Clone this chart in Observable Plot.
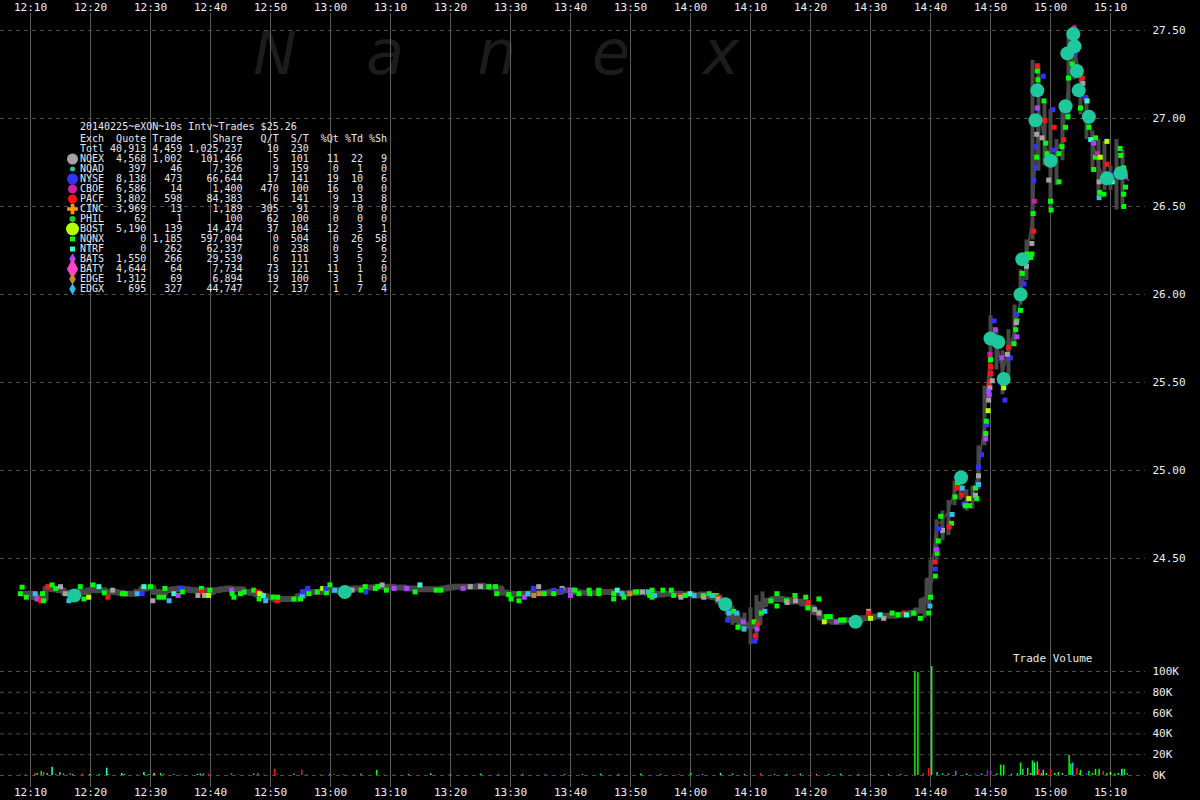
<!DOCTYPE html>
<html><head><meta charset="utf-8">
<script src="https://cdn.jsdelivr.net/npm/d3@7"></script>
<script src="https://cdn.jsdelivr.net/npm/@observablehq/plot@0.6"></script>
<style>
html,body{margin:0;padding:0;background:#000;}
#wrap{position:relative;width:1200px;height:800px;background:#000;overflow:hidden;}
#wrap > svg{position:absolute;left:0;top:0;}
.mono{position:absolute;font-family:"DejaVu Sans Mono",monospace;white-space:pre;margin:0;color:#e8e8e8;}
</style></head>
<body><div id="wrap"></div>
<script>
// ---------------- DATA ----------------
const timeTickLabels = ["12:10","12:20","12:30","12:40","12:50","13:00","13:10","13:20","13:30","13:40","13:50","14:00","14:10","14:20","14:30","14:40","14:50","15:00","15:10"];
const priceTicks = [24.5, 25.0, 25.5, 26.0, 26.5, 27.0, 27.5];
const volumeTicks = [0, 20, 40, 60, 80, 100];

// NBBO mid price, one value per minute starting 12:09
const midStartMinute = 9;
const midPrice = [
 24.30,24.30,24.28,24.27,24.33,24.325,24.32,24.305,24.295,24.305,
 24.31,24.32,24.32,24.32,24.31,24.31,24.305,24.30,24.30,24.31,
 24.33,24.335,24.31,24.305,24.32,24.325,24.33,24.325,24.32,24.32,
 24.32,24.31,24.32,24.325,24.33,24.325,24.325,24.31,24.305,24.295,
 24.285,24.28,24.27,24.27,24.27,24.27,24.285,24.31,24.31,24.31,
 24.32,24.32,24.32,24.31,24.325,24.33,24.33,24.335,24.335,24.34,
 24.34,24.34,24.335,24.335,24.33,24.33,24.325,24.325,24.325,24.325,
 24.33,24.335,24.34,24.34,24.34,24.34,24.345,24.34,24.335,24.33,
 24.305,24.30,24.295,24.30,24.30,24.305,24.305,24.305,24.31,24.31,
 24.32,24.32,24.31,24.305,24.305,24.305,24.31,24.31,24.31,24.305,
 24.30,24.305,24.305,24.31,24.305,24.30,24.295,24.30,24.30,24.30,
 24.295,24.295,24.29,24.295,24.285,24.28,24.26,24.22,24.17,24.15,
 24.125,24.115,24.135,24.24,24.26,24.27,24.27,24.265,24.255,24.255,
 24.245,24.22,24.195,24.165,24.15,24.14,24.14,24.15,24.15,24.15,
 24.16,24.165,24.17,24.175,24.175,24.175,24.18,24.18,24.19,24.205,
 24.26,24.375,24.69,24.715,24.77,24.885,24.91,24.86,24.84,25.00,
 25.28,25.71,25.74,25.555,25.68,25.795,25.965,26.205,26.45,27.045,
 26.875,26.735,26.82,26.875,27.215,27.415,27.215,27.045,26.875,26.735,
 26.65,26.65,26.67,26.675,26.65
];

// quote range within a minute: [minute after 12:00, low, high]
const quoteRanges = [
 [125,24.23,24.29],[126,24.18,24.26],[127,24.12,24.23],[128,24.09,24.19],[129,24.08,24.19],[130,24.01,24.22],[131,24.03,24.29],[132,24.20,24.31],
 [159,24.16,24.28],[160,24.26,24.49],[161,24.49,24.72],[162,24.60,24.77],[163,24.63,24.83],[164,24.80,24.94],[165,24.83,25.00],[166,24.77,24.89],
 [167,24.78,24.91],[168,24.89,25.14],[169,25.14,25.48],[170,25.51,25.88],[171,25.57,25.80],[172,25.43,25.68],[173,25.54,25.80],[174,25.71,25.94],
 [175,25.94,26.14],[176,26.08,26.31],[177,26.31,27.33],[178,26.70,27.30],[179,26.73,27.10],[180,26.48,27.05],[181,26.62,26.88],[182,26.76,27.07],
 [183,26.99,27.50],[184,27.22,27.53],[185,27.02,27.27],[186,26.88,27.13],[187,26.70,26.93],[188,26.56,26.88],[189,26.59,26.87],[190,26.59,26.73],
 [191,26.48,26.88],[192,26.51,26.82]
];

// trades: [minute after 12:00, price, exchange code]
const trades = [
 [8.6,24.337,"Q"],[8.3,24.30,"Q"],[9.3,24.28,"Q"],[10.8,24.30,"X"],[11.1,24.27,"Z"],[11.7,24.26,"P"],[12.2,24.26,"Q"],[12.0,24.30,"Q"],
 [12.9,24.34,"P"],[13.6,24.35,"Q"],[14.2,24.33,"Q"],[15.0,24.34,"G"],[15.8,24.30,"G"],[16.4,24.26,"X"],[17.9,24.31,"Z"],[18.3,24.34,"Q"],
 [18.9,24.27,"Q"],[19.7,24.28,"B"],[20.4,24.35,"Q"],[21.4,24.34,"T"],[22.3,24.305,"Q"],[22.9,24.28,"P"],[23.7,24.32,"G"],[25.3,24.30,"Q"],
 [25.8,24.30,"Q"],[27.8,24.30,"X"],[28.6,24.30,"N"],[28.9,24.34,"T"],[30.0,24.34,"Q"],[30.4,24.26,"G"],[31.4,24.28,"Q"],[32.4,24.33,"Q"],
 [32.2,24.28,"Q"],[33.1,24.26,"X"],[33.9,24.30,"T"],[34.6,24.29,"Z"],[35.0,24.33,"N"],[35.3,24.31,"Q"],[37.9,24.29,"G"],[38.5,24.33,"Q"],
 [38.6,24.31,"P"],[39.0,24.29,"G"],[39.7,24.29,"B"],[39.9,24.32,"Q"],[43.5,24.32,"Z"],[43.6,24.30,"Q"],[43.9,24.28,"Q"],[45.0,24.30,"Q"],
 [45.6,24.31,"Q"],[47.2,24.32,"Q"],[47.9,24.31,"P"],[48.2,24.30,"B"],[48.1,24.27,"Q"],[48.8,24.29,"T"],[49.2,24.26,"X"],[50.4,24.28,"Q"],
 [51.1,24.26,"P"],[51.2,24.28,"Q"],[53.9,24.27,"Q"],[55.0,24.27,"Q"],[55.3,24.29,"X"],[55.3,24.31,"N"],[56.2,24.33,"N"],[56.4,24.30,"Q"],
 [57.8,24.31,"Q"],[58.7,24.33,"B"],[59.3,24.305,"Q"],[59.2,24.33,"N"],[59.9,24.35,"Q"],[60.7,24.32,"X"],[63.6,24.32,"G"],[65.1,24.32,"Q"],
 [65.8,24.34,"Q"],[65.9,24.31,"N"],[67.5,24.33,"Q"],[67.9,24.34,"Q"],[68.6,24.35,"G"],[69.3,24.32,"Q"],[70.6,24.33,"Z"],[72.7,24.33,"Z"],
 [74.9,24.35,"T"],[74.1,24.31,"Q"],[77.6,24.32,"Q"],[78.4,24.32,"Q"],[82.1,24.33,"Z"],[83.3,24.34,"G"],[85.0,24.34,"G"],[86.4,24.34,"Q"],
 [87.5,24.34,"Q"],[87.7,24.30,"Q"],[89.7,24.295,"Q"],[90.1,24.27,"Q"],[91.4,24.30,"Q"],[91.4,24.26,"Q"],[92.3,24.28,"Z"],[92.9,24.30,"X"],
 [93.8,24.33,"N"],[93.9,24.29,"E"],[94.7,24.34,"G"],[94.8,24.30,"E"],[95.6,24.30,"Q"],[97.2,24.32,"N"],[97.2,24.30,"Q"],[98.6,24.33,"G"],
 [98.5,24.32,"N"],[100.0,24.32,"Z"],[100.0,24.29,"Z"],[100.7,24.32,"Q"],[101.4,24.30,"Q"],[103.1,24.32,"Q"],[103.2,24.30,"Q"],[104.7,24.32,"Q"],
 [104.7,24.30,"Q"],[107.2,24.30,"Q"],[107.2,24.27,"Q"],[107.8,24.32,"T"],[108.6,24.30,"X"],[108.9,24.28,"Q"],[109.9,24.30,"E"],[110.8,24.31,"E"],
 [111.0,24.31,"Q"],[112.0,24.31,"G"],[113.0,24.31,"X"],[113.2,24.29,"Q"],[113.6,24.32,"Q"],[113.6,24.28,"Q"],[114.0,24.29,"X"],[115.4,24.32,"Q"],
 [116.8,24.32,"Q"],[117.2,24.29,"Q"],[118.3,24.29,"P"],[118.4,24.28,"G"],[119.1,24.29,"Q"],[119.9,24.30,"T"],[120.6,24.29,"X"],[122.1,24.29,"Q"],
 [122.2,24.28,"G"],[123.1,24.30,"Q"],[123.6,24.29,"X"],[124.3,24.29,"Q"],[124.6,24.28,"P"],[124.6,24.27,"G"],[126.4,24.19,"X"],[126.2,24.15,"N"],
 [127.2,24.20,"Q"],[127.7,24.19,"X"],[127.9,24.11,"Q"],[128.9,24.10,"X"],[128.8,24.14,"Z"],[130.6,24.14,"Q"],[130.8,24.06,"P"],[130.7,24.03,"N"],
 [131.1,24.10,"Z"],[131.2,24.13,"P"],[131.8,24.19,"Q"],[132.4,24.20,"X"],[133.4,24.26,"Q"],[134.4,24.30,"Q"],[134.4,24.23,"Q"],[136.0,24.26,"Q"],
 [136.1,24.25,"G"],[137.4,24.29,"Q"],[137.5,24.26,"G"],[139.2,24.28,"Q"],[139.6,24.25,"P"],[139.6,24.22,"Q"],[140.7,24.21,"G"],[141.4,24.27,"Q"],
 [141.4,24.19,"G"],[142.3,24.14,"B"],[142.7,24.17,"Q"],[143.3,24.17,"Q"],[144.3,24.14,"Z"],[145.0,24.15,"Q"],[145.6,24.15,"Q"],[149.7,24.20,"G"],
 [149.7,24.19,"P"],[150.0,24.16,"B"],[151.6,24.18,"T"],[152.2,24.16,"G"],[153.6,24.19,"Q"],[154.6,24.18,"Q"],[155.6,24.19,"P"],[156.0,24.18,"T"],
 [157.2,24.19,"Q"],[158.3,24.16,"Q"],[159.7,24.19,"Q"],[160.0,24.28,"Q"],[159.9,24.23,"X"],[160.8,24.40,"Q"],[160.8,24.44,"N"],[160.8,24.48,"P"],
 [161.1,24.53,"Q"],[161.0,24.55,"Z"],[161.3,24.60,"Q"],[162.0,24.66,"G"],[161.4,24.67,"N"],[161.7,24.74,"Q"],[163.6,24.75,"X"],[163.5,24.70,"Q"],
 [163.1,24.68,"P"],[164.1,24.85,"Q"],[164.4,24.90,"P"],[164.5,24.93,"Q"],[165.3,24.90,"X"],[165.2,24.86,"P"],[165.6,24.81,"N"],[165.8,24.80,"Q"],
 [166.5,24.80,"Q"],[166.4,24.84,"B"],[167.5,24.90,"Q"],[167.7,24.84,"Q"],[167.5,24.86,"G"],[168.0,24.92,"X"],[168.0,24.97,"G"],[168.0,25.02,"N"],
 [168.5,25.09,"N"],[169.2,25.18,"Z"],[169.2,25.21,"Q"],[169.4,25.26,"N"],[169.3,25.28,"Q"],[169.6,25.34,"B"],[169.7,25.40,"G"],[169.8,25.43,"Z"],
 [169.9,25.47,"G"],[169.8,25.50,"P"],[172.2,25.47,"B"],[172.4,25.40,"N"],[170.8,25.80,"Z"],[170.6,25.85,"N"],[169.9,25.66,"C"],[170.0,25.59,"P"],
 [169.7,25.45,"Z"],[171.7,25.72,"Q"],[171.9,25.64,"Z"],[173.3,25.64,"N"],[173.9,25.72,"Q"],[174.2,25.80,"Q"],[174.4,25.85,"Q"],[174.4,25.89,"N"],
 [175.6,26.06,"N"],[175.3,26.12,"Q"],[176.1,26.23,"Q"],[176.7,26.21,"Q"],[176.9,26.29,"G"],[177.2,26.36,"P"],[177.1,26.46,"Q"],[177.3,26.53,"C"],
 [177.2,26.65,"N"],[177.5,26.72,"N"],[177.7,26.78,"Q"],[177.5,26.84,"N"],[177.7,26.91,"G"],[177.8,27.06,"Z"],[177.9,27.22,"Q"],[177.8,27.27,"Q"],
 [177.8,27.30,"P"],[178.8,27.24,"N"],[178.9,27.10,"Q"],[179.0,26.99,"P"],[178.6,26.89,"G"],[179.2,26.86,"Q"],[179.4,26.80,"Q"],[179.7,26.65,"G"],
 [180.0,26.53,"Q"],[180.1,26.48,"Q"],[180.4,27.05,"N"],[180.6,26.95,"P"],[180.6,26.82,"N"],[181.4,26.80,"Q"],[181.4,26.64,"Q"],[181.9,26.84,"Q"],
 [182.2,26.88,"P"],[182.5,26.95,"Q"],[182.9,27.01,"Q"],[183.0,27.23,"Q"],[183.9,27.51,"C"],[184.1,27.37,"N"],[183.6,27.31,"Q"],[185.3,27.23,"P"],
 [185.4,27.20,"G"],[185.0,27.06,"Q"],[185.8,27.12,"N"],[186.1,27.10,"T"],[186.4,26.95,"Q"],[186.7,26.88,"T"],[187.2,26.86,"Z"],[187.5,26.89,"Q"],
 [187.5,26.78,"Q"],[187.8,26.80,"C"],[188.3,26.78,"B"],[187.2,26.71,"Q"],[189.4,26.87,"B"],[189.4,26.74,"P"],[188.1,26.64,"G"],[188.2,26.58,"Q"],
 [188.9,26.57,"Q"],[188.1,26.55,"X"],[190.3,26.64,"T"],[190.6,26.68,"N"],[191.6,26.83,"Q"],[191.7,26.79,"Q"],[192.2,26.72,"Q"],[192.5,26.67,"Z"],
 [192.5,26.61,"Q"],[192.2,26.57,"Q"],[192.2,26.50,"Q"],[170.0,25.63,"Q"],[170.0,25.55,"P"],[170.3,25.51,"G"],[173.0,25.70,"P"],[172.8,25.66,"G"],
 [175.0,25.91,"Q"],[174.3,25.84,"G"],[174.4,25.76,"Z"],[176.9,26.23,"Q"],[176.0,26.16,"G"]
];

// large prints: [minute after 12:00, price]
const largePrints = [
 [17.3,24.29],[62.4,24.31],[125.8,24.24],[147.5,24.14],[165.1,24.96],[170.0,25.75],[171.3,25.73],[172.2,25.52],
 [175.0,26.00],[175.3,26.20],[177.5,26.99],[177.8,27.16],[180.0,26.76],[182.5,27.07],[182.8,27.37],[183.8,27.48],
 [184.0,27.41],[184.4,27.27],[184.7,27.16],[186.4,27.01],[189.4,26.66],[191.7,26.69]
];

// trade volume bars: [minute after 12:00, thousand shares, exchange code]
const volumes = [
 [8.3,0.5,"Q"],[9.2,0.5,"Q"],[10.7,2,"P"],[11.1,2,"Q"],[11.8,4,"Q"],[12.2,3,"C"],[12.8,2,"Q"],[13.6,8,"T"],[14.2,1,"Z"],[14.9,3,"X"],
 [15.5,1.5,"Q"],[16.6,2,"C"],[17,1,"Q"],[18.6,1.5,"P"],[19.9,1,"B"],[21.4,1,"Q"],[22.7,7,"T"],[22.9,1,"Q"],[25.2,2,"T"],[25.6,1,"T"],
 [27.8,0.5,"X"],[28.9,3,"T"],[29.7,1,"Q"],[30.6,2,"B"],[31.7,2,"Q"],[32.2,1.5,"P"],[33.9,1,"X"],[35,0.5,"Z"],[37.8,1,"T"],[38.3,1.5,"X"],
 [38.8,1.5,"Q"],[39.7,1,"P"],[43.5,2,"C"],[44.7,0.5,"Z"],[47.2,1.5,"Q"],[47.9,2,"Z"],[48.9,0.5,"Q"],[50.7,6,"P"],[51.1,1,"P"],[53.9,1.5,"X"],
 [55.2,5,"P"],[56.1,0.5,"Q"],[58.3,0.5,"Q"],[59.9,1.5,"Z"],[60.6,0.5,"Q"],[62.2,0.5,"G"],[63.9,0.5,"Z"],[65.1,1.5,"Q"],[67.7,5,"Q"],[68.9,0.5,"Q"],
 [70.6,0.5,"Z"],[73,1,"Q"],[76.7,1.5,"T"],[80,1,"G"],[85,1.5,"Q"],[88,1,"Z"],[92,1,"Q"],[95.8,1.5,"N"],[99,1,"Q"],[102,1,"G"],
 [105,1.5,"Q"],[108,1,"X"],[111.7,1.5,"Q"],[115,1,"Q"],[118,1,"P"],[120,2,"Q"],[122,1,"G"],[125,2,"T"],[127,1.5,"X"],[129,1,"Q"],
 [131.7,2,"P"],[134,1,"Q"],[136,1,"Q"],[138.3,1.5,"Q"],[141,1,"G"],[143,1,"Q"],[145,1.5,"Q"],[148,1,"Q"],[150,1,"Q"],[153,1,"G"],
 [155,1,"Q"],[157.4,100,"Q"],[157.9,98.7,"Q"],[158.8,2,"P"],[159.7,6.7,"P"],[160.2,104.8,"Q"],[161.1,3,"X"],[162,1.5,"Q"],[163,1.5,"G"],[164.2,4,"Z"],
 [166,1.5,"Q"],[167.5,1.5,"N"],[168.5,1.5,"Q"],[169.5,5,"N"],[170,4,"C"],[171,1.5,"Q"],[171.7,10,"Q"],[172.2,10,"Q"],[173.5,1.5,"X"],[174.5,2,"Q"],
 [175,12,"Q"],[175.4,6,"X"],[176.2,7,"Q"],[176.7,2,"G"],[177,14,"Q"],[177.3,12,"T"],[177.8,13,"Q"],[178,6,"P"],[178.5,2,"Q"],[178.8,5,"G"],
 [179.3,2,"Q"],[180,6,"P"],[180.7,2,"Q"],[181.3,3,"Q"],[182,2,"G"],[183.1,19.5,"Q"],[183.4,11,"Q"],[183.7,12,"X"],[184.4,7,"P"],[184.9,2,"Q"],
 [185,5,"Q"],[186,2,"N"],[186.4,4,"Q"],[187,2,"Q"],[187.5,6,"Q"],[188.1,6,"Q"],[188.8,4,"P"],[189.4,2,"Q"],[190,3,"B"],[190.7,1.5,"Q"],
 [191.3,2,"Q"],[191.9,6,"T"],[192.3,6,"Q"],[192.8,2,"Z"]
];

// legend table
const legendTitle = "20140225~eXON~10s Intv~Trades $25.26";
const legendHeader = ["Exch","Quote","Trade","Share","Q/T","S/T","%Qt","%Td","%Sh"];
const totalRow = ["Totl", 40913, 4459, 1025237, 10, 230];
const exchNames = ["NQEX","NQAD","NYSE","CBOE","PACF","CINC","PHIL","BOST","NQNX","NTRF","BATS","BATY","EDGE","EDGX"];
const exchCodes = ["G","a","N","C","P","I","H","B","Q","T","Z","Y","E","X"];
const exchQuote = [4568,397,8138,6586,3802,3969,62,5190,0,0,1550,4644,1312,695];
const exchTrade = [1002,46,473,14,598,13,1,139,1185,262,266,64,69,327];
const exchShare = [101466,7326,66644,1400,84383,1189,100,14474,597004,62337,29539,7734,6894,44747];
const exchQT = [5,9,17,470,6,305,62,37,0,0,6,73,19,2];
const exchST = [101,159,141,100,141,91,100,104,504,238,111,121,100,137];
const exchPctQt = [11,0,19,16,9,9,0,12,0,0,3,11,3,1];
const exchPctTd = [22,1,10,0,13,0,0,3,26,5,5,1,1,7];
const exchPctSh = [9,0,6,0,8,0,0,1,58,6,2,0,0,4];
const watermarkLetters = ["N","a","n","e","x"];
const volumeTitle = "Trade Volume";

// ---------------- STYLE ----------------
const exchColor = {G:"#a4a4a4",a:"#20c8a0",N:"#3333ff",C:"#cc22aa",P:"#ff1414",I:"#ff9900",H:"#22cc22",B:"#b4ff00",Q:"#00ff00",T:"#33ffcc",Z:"#aa44ff",Y:"#ff44cc",E:"#cc8822",X:"#33bbee"};
const markerShape = {G:"circle",a:"circle",N:"circle",C:"circle",P:"circle",I:"cross",H:"circle",B:"circle",Q:"square",T:"square",Z:"diamond",Y:"diamond",E:"diamond",X:"diamond"};
const markerR = {G:5.5,a:2.5,N:5.5,C:4.5,P:4.5,I:4.5,H:3,B:6.5,Q:2.8,T:2.8,Z:3.5,Y:6,E:3.5,X:3.5};
const wmX = [275,385,497,611,721];
const wmSize = [58,62,62,62,62];

const base = Date.UTC(2014,1,25,12,0,0);
const T = m => new Date(base + m*60000);
const parseHM = s => { const [h,mm] = s.split(":").map(Number); return T((h-12)*60+mm); };
const timeTicks = timeTickLabels.map(parseHM);
const fmtHM = d3.utcFormat("%H:%M");

const midData = midPrice.map((p,i) => ({t: T(midStartMinute+i), p, m: midStartMinute+i}));
const rangeData = quoteRanges.map(([m,lo,hi]) => ({t:T(m), lo, hi}));
const tradeData = trades.map(([m,p,c]) => ({t:T(m), p, c: exchColor[c]}));
const bigData = largePrints.map(([m,p]) => ({t:T(m), p}));
const volData = volumes.map(([m,k,c]) => ({t:T(m), k, c: exchColor[c]}));

const W = 1200, H = 800;
const xScale = {type:"utc", domain:[T(5), T(205)], range:[0, W]};
const common = {width:W, height:H, marginTop:13, marginBottom:13, marginLeft:0, marginRight:55,
  style:{background:"transparent", color:"#f0f0f0", fontFamily:"'DejaVu Sans Mono', monospace", fontSize:"11px"}};

const wrap = document.getElementById("wrap");

// watermark layer
const wm = d3.select(wrap).append("svg").attr("width",W).attr("height",H);
wm.selectAll("text").data(watermarkLetters).join("text")
  .attr("x",(d,i)=>wmX[i]).attr("y",74).attr("text-anchor","middle")
  .attr("font-family","DejaVu Sans").attr("font-style","oblique")
  .attr("font-size",(d,i)=>wmSize[i]).attr("fill","#1c1c1c").text(d=>d);

// price panel
const pricePlot = Plot.plot({
  ...common,
  x: xScale,
  y: {domain:[24.5, 27.5], range:[558, 30]},
  marks: [
    Plot.gridX(timeTicks, {stroke:"#5e5e5e", strokeOpacity:1}),
    Plot.gridY(priceTicks, {stroke:"#4c4c4c", strokeOpacity:1, strokeDasharray:"4,4"}),
    Plot.axisX(timeTicks, {anchor:"top", tickSize:0, tickPadding:3, tickFormat:fmtHM, fill:"#f0f0f0", label:null}),
    Plot.axisX(timeTicks, {anchor:"bottom", tickSize:0, tickPadding:1, tickFormat:fmtHM, fill:"#f0f0f0", label:null}),
    Plot.axisY(priceTicks, {anchor:"right", tickSize:0, tickPadding:7, tickFormat:d3.format(".2f"), fill:"#f0f0f0", label:null}),
    Plot.lineY(midData.filter(d => d.m <= 160), {x:"t", y:"p", stroke:"#474747", strokeWidth:6, curve:"step"}),
    Plot.lineY(midData.filter(d => d.m >= 159), {x:"t", y:"p", stroke:"#474747", strokeWidth:2}),
    Plot.ruleX(rangeData, {x:"t", y1:"lo", y2:"hi", stroke:"#474747", strokeWidth:4}),
    Plot.dot(tradeData, {x:"t", y:"p", fill:"c", symbol:"square", r:2.8}),
    Plot.dot(bigData, {x:"t", y:"p", fill:"#1fc89c", r:7})
  ]
});
wrap.appendChild(pricePlot);

// volume panel
const volPlot = Plot.plot({
  ...common,
  x: {...xScale, axis:null},
  y: {domain:[0, 100], range:[775, 671]},
  marks: [
    Plot.gridY(volumeTicks, {stroke:"#4c4c4c", strokeOpacity:1, strokeDasharray:"4,4"}),
    Plot.axisY(volumeTicks, {anchor:"right", tickSize:0, tickPadding:7, tickFormat:d => d + "K", fill:"#f0f0f0", label:null}),
    Plot.ruleX(volData, {x:"t", y1:0, y2:"k", stroke:"c", strokeWidth:1.5})
  ]
});
wrap.appendChild(volPlot);

// "Trade Volume" label
const tv = document.createElement("div");
tv.className = "mono"; tv.style.left = "1013px"; tv.style.top = "652px"; tv.style.fontSize = "11px";
tv.textContent = volumeTitle;
wrap.appendChild(tv);

// legend table
const fmtN = d3.format(",");
const rowText = (name, q, t, s, qt, st, a, b, c) =>
  name.padEnd(4) + String(q).padStart(7) + String(t).padStart(6) + String(s).padStart(10) +
  String(qt).padStart(6) + String(st).padStart(5) + String(a).padStart(5) + String(b).padStart(4) + String(c).padStart(4);
const lines = [];
lines.push(rowText(...legendHeader));
lines.push(rowText(totalRow[0], fmtN(totalRow[1]), fmtN(totalRow[2]), fmtN(totalRow[3]), totalRow[4], totalRow[5], "", "", "").trimEnd());
exchNames.forEach((n,i) => lines.push(rowText(n, fmtN(exchQuote[i]), fmtN(exchTrade[i]), fmtN(exchShare[i]), exchQT[i], exchST[i], exchPctQt[i], exchPctTd[i], exchPctSh[i])));

const title = document.createElement("pre");
title.className = "mono"; title.style.left = "80px"; title.style.top = "121px";
title.style.fontSize = "10px"; title.style.lineHeight = "12px";
title.textContent = legendTitle;
wrap.appendChild(title);
const table = document.createElement("pre");
table.className = "mono"; table.style.left = "80px"; table.style.top = "134px";
table.style.fontSize = "10px"; table.style.lineHeight = "10px";
table.textContent = lines.join("\n");
wrap.appendChild(table);

// legend markers
const mk = d3.select(wrap).append("svg").attr("width",120).attr("height",320);
const symMap = {circle:d3.symbolCircle, square:d3.symbolSquare, diamond:d3.symbolDiamond, cross:d3.symbolCross};
mk.selectAll("path").data(exchCodes).join("path")
  .attr("transform",(c,i) => `translate(72.5,${134 + 5 + (i+2)*10})`)
  .attr("d", c => d3.symbol(symMap[markerShape[c]], Math.PI*markerR[c]*markerR[c])())
  .attr("fill", c => exchColor[c]);
</script>
</body></html>
